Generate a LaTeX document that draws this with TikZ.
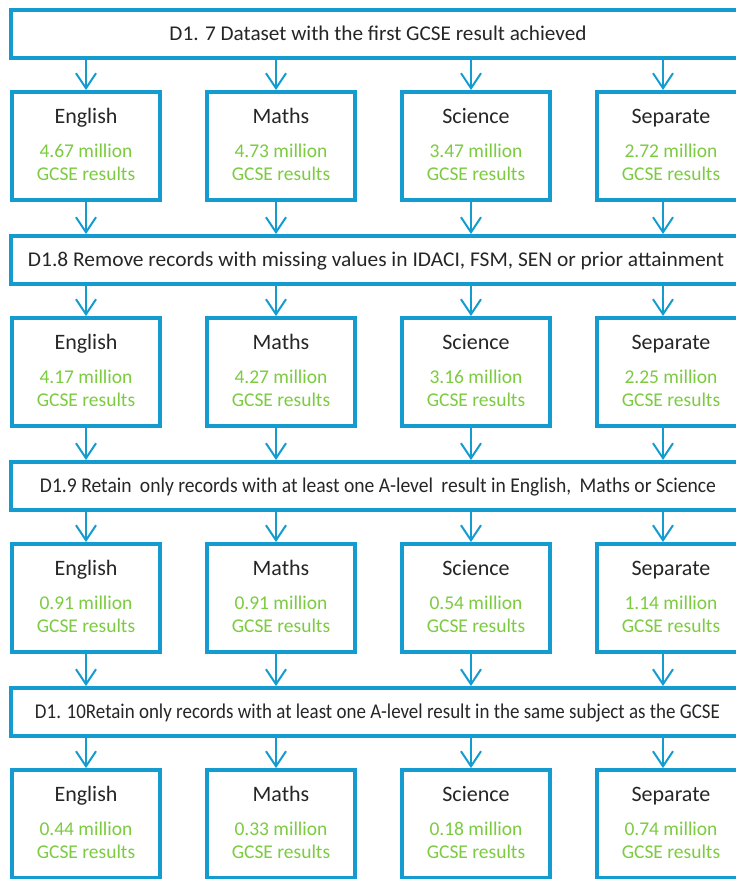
\documentclass[tikz,border=0pt]{standalone}
\usepackage{fontspec}
\setmainfont{Carlito}
\usetikzlibrary{arrows.meta}
\definecolor{fblue}{RGB}{20,155,208}
\definecolor{fgreen}{RGB}{124,203,64}
\definecolor{ftext}{RGB}{38,38,38}
\newcommand{\fitw}[2]{\resizebox{#1}{\height}{#2}}
\begin{document}
\begin{tikzpicture}[x=1pt,y=-1pt,
  bar/.style={draw=fblue, line width=4pt, minimum width=733pt, minimum height=48pt, inner sep=0pt, outer sep=0pt, anchor=north west, fill=white},
  subj/.style={draw=fblue, line width=4.5pt, minimum width=148pt, minimum height=108pt, inner sep=0pt, outer sep=0pt, anchor=north west, fill=white},
  title/.style={text=ftext, font=\fontsize{22}{26}\selectfont, anchor=base, inner sep=0pt},
  num/.style={text=fgreen, font=\fontsize{19.5}{23}\selectfont, anchor=base, inner sep=0pt},
  bartext/.style={text=ftext, font=\fontsize{21}{25}\selectfont, anchor=base, inner sep=0pt},
  arr/.style={draw=fblue, line width=2pt, shorten >=2pt, -{Straight Barb[length=15pt,width=20pt,line width=2pt]}}
]
\clip (0,0) rectangle (736,879);
\coordinate (c1) at (86,0);
\coordinate (c2) at (276,0);
\coordinate (c3) at (471,0);
\coordinate (c4) at (663,0);
\foreach \k/\a/\b/\c/\d in {0/4.67/4.73/3.47/2.72, 1/4.17/4.27/3.16/2.25, 2/0.91/0.91/0.54/1.14, 3/0.44/0.33/0.18/0.74}{
  \pgfmathsetmacro\bt{10+226*\k}
  \pgfmathsetmacro\st{92+226*\k}
  \node[bar] (b\k) at (11,\bt) {};
  \foreach \j/\x/\name/\v in {1/12/English/\a, 2/207/Maths/\b, 3/402/Science/\c, 4/597/Separate/\d}{
    \node[subj] (s\k\j) at (\x,\st) {};
    \node[title] (h\k\j) at ([yshift=-31pt]s\k\j.north) {\name};
    \node[num] (n\k\j) at ([yshift=-65pt]s\k\j.north) {\v\ million};
    \node[num] (g\k\j) at ([yshift=-88pt]s\k\j.north) {GCSE results};
    \draw[arr] (b\k.south -| c\j) -- (s\k\j.north -| c\j);
  }
}
\foreach \k/\n in {0/1,1/2,2/3}{
  \foreach \j in {1,2,3,4}{
    \draw[arr] (s\k\j.south -| c\j) -- (b\n.north -| c\j);
  }
}
\node[bartext] (t0) at (378,40) {\fitw{417pt}{D1. 7 Dataset with the first GCSE result achieved}};
\node[bartext] (t1) at (376,266) {\fitw{696pt}{D1.8 Remove records with missing values in IDACI, FSM, SEN or prior attainment}};
\node[bartext] (t2) at (378,492) {\fitw{676pt}{D1.9 Retain\hspace{0.2em} only records with at least one A-level\hspace{0.2em} result in English,\hspace{0.2em} Maths or Science}};
\node[bartext] (t3) at (377.5,718) {\fitw{685pt}{D1. 10Retain only records with at least one A-level result in the same subject as the GCSE}};
\end{tikzpicture}
\end{document}
